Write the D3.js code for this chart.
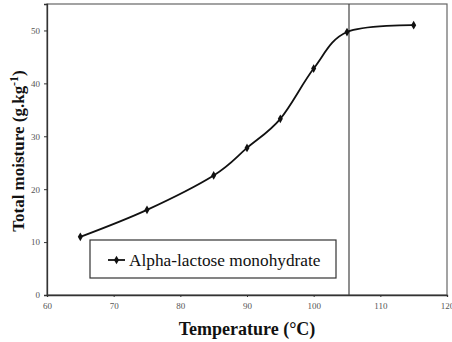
<!DOCTYPE html>
<html>
<head>
<meta charset="utf-8">
<script src="https://cdn.jsdelivr.net/npm/d3@7"></script>
<style>
  body { margin: 0; background: #fff; }
  svg { display: block; }
  svg text { font-family: "Liberation Serif", "Times New Roman", Times, serif; }
</style>
</head>
<body>
<svg width="452" height="342"></svg>
<script>
// data
var temperature = [65, 75, 85, 90, 95, 100, 105, 115];
var moisture = [11.0, 16.1, 22.6, 27.8, 33.3, 42.8, 49.7, 51.0];
var xTicks = [60, 70, 80, 90, 100, 110, 120];
var yTicks = [0, 10, 20, 30, 40, 50];
var markerLine = 105.3;
var seriesName = "Alpha-lactose monohydrate";

var svg = d3.select("svg"),
  margin = {left: 47, top: 4, right: 5, bottom: 47},
  width = +svg.attr("width") - margin.left - margin.right,
  height = +svg.attr("height") - margin.top - margin.bottom;

var x = d3.scaleLinear().domain([60, 120]).range([0, width]);
var y = d3.scaleLinear().domain([0, 55]).range([height, 0]);

var g = svg.append("g").attr("transform", "translate(" + margin.left + "," + margin.top + ")");

// frame
g.append("rect")
  .attr("width", width).attr("height", height)
  .attr("fill", "none").attr("stroke", "#666").attr("stroke-width", 1.2);

var xAxis = g.append("g")
  .attr("transform", "translate(0," + height + ")")
  .call(d3.axisBottom(x).tickValues(xTicks).tickSize(2).tickPadding(6));
var yAxis = g.append("g")
  .call(d3.axisLeft(y).tickValues(yTicks).tickSize(3).tickPadding(4));

[xAxis, yAxis].forEach(function (a) {
  a.attr("font-family", null);
  a.select(".domain").attr("stroke", "#333").attr("stroke-width", 1.3);
  a.selectAll(".tick line").attr("stroke", "#333");
  a.selectAll("text")
    .attr("font-size", 9)
    .attr("fill", "#555");
});

// vertical reference line
g.append("line")
  .attr("x1", x(markerLine)).attr("x2", x(markerLine))
  .attr("y1", 0).attr("y2", height)
  .attr("stroke", "#444").attr("stroke-width", 1.2);

var pts = temperature.map(function (t, i) { return [t, moisture[i]]; });

var line = d3.line()
  .x(function (d) { return x(d[0]); })
  .y(function (d) { return y(d[1]); })
  .curve(d3.curveCardinal.tension(0));

g.append("path")
  .datum(pts)
  .attr("d", line)
  .attr("fill", "none")
  .attr("stroke", "#111")
  .attr("stroke-width", 1.8);

var diamond = d3.symbol().type(d3.symbolDiamond).size(22);

g.selectAll(".pt")
  .data(pts)
  .enter().append("path")
  .attr("class", "pt")
  .attr("d", diamond)
  .attr("transform", function (d) { return "translate(" + x(d[0]) + "," + y(d[1]) + ")"; })
  .attr("fill", "#111");

// legend
var leg = svg.append("g").attr("transform", "translate(90,240)");
leg.append("rect")
  .attr("width", 246).attr("height", 38)
  .attr("fill", "#fff").attr("stroke", "#333").attr("stroke-width", 1.2);
leg.append("line")
  .attr("x1", 18).attr("x2", 35).attr("y1", 20).attr("y2", 20)
  .attr("stroke", "#111").attr("stroke-width", 1.8);
leg.append("path")
  .attr("d", diamond)
  .attr("transform", "translate(26.5,20)")
  .attr("fill", "#111");
leg.append("text")
  .attr("x", 39).attr("y", 26)
  .attr("font-size", 17.3)
  .attr("fill", "#111")
  .text(seriesName);

// axis titles
svg.append("text")
  .attr("x", 247).attr("y", 335)
  .attr("text-anchor", "middle")
  .attr("font-weight", "bold")
  .attr("font-size", 18)
  .attr("fill", "#111")
  .text("Temperature (°C)");

var yt = svg.append("text")
  .attr("transform", "translate(24,151) rotate(-90)")
  .attr("text-anchor", "middle")
  .attr("font-weight", "bold")
  .attr("font-size", 17)
  .attr("fill", "#111");
yt.append("tspan").text("Total moisture (g.kg");
yt.append("tspan").attr("dy", -6).attr("font-size", 12).text("-1");
yt.append("tspan").attr("dy", 6).text(")");
</script>
</body>
</html>
